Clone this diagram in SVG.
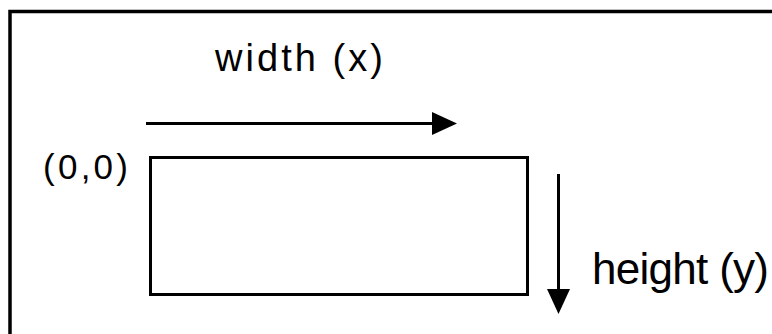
<svg xmlns="http://www.w3.org/2000/svg" width="772" height="334" viewBox="0 0 772 334">
  <style>
    .ln { stroke: #000; stroke-width: 3; fill: none; }
    .lbl { font-family: "Liberation Sans", Arial, sans-serif; fill: #000; }
  </style>
  <defs>
    <marker id="arr" markerUnits="userSpaceOnUse" markerWidth="26" markerHeight="24" refX="0" refY="11.5" orient="auto">
      <path d="M0,0 L25,11.5 L0,23 z" fill="#000"/>
    </marker>
  </defs>
  <rect width="772" height="334" fill="#fff"/>
  <g id="frame">
    <rect x="10" y="11.5" width="800" height="400" fill="none" stroke="#000" stroke-width="3.5"/>
  </g>
  <g id="rectangle">
    <rect class="ln" x="150.5" y="157.5" width="377" height="137"/>
  </g>
  <g id="connectors">
    <line class="ln" x1="146" y1="123.5" x2="432" y2="123.5" marker-end="url(#arr)"/>
    <line class="ln" x1="558.5" y1="174" x2="558.5" y2="289" marker-end="url(#arr)"/>
  </g>
  <g id="labels">
    <text class="lbl" x="215" y="71" font-size="38" textLength="168">width (x)</text>
    <text class="lbl" x="43" y="179" font-size="35" textLength="85">(0,0)</text>
    <text class="lbl" x="592" y="284" font-size="44" textLength="177">height (y)</text>
  </g>
</svg>
